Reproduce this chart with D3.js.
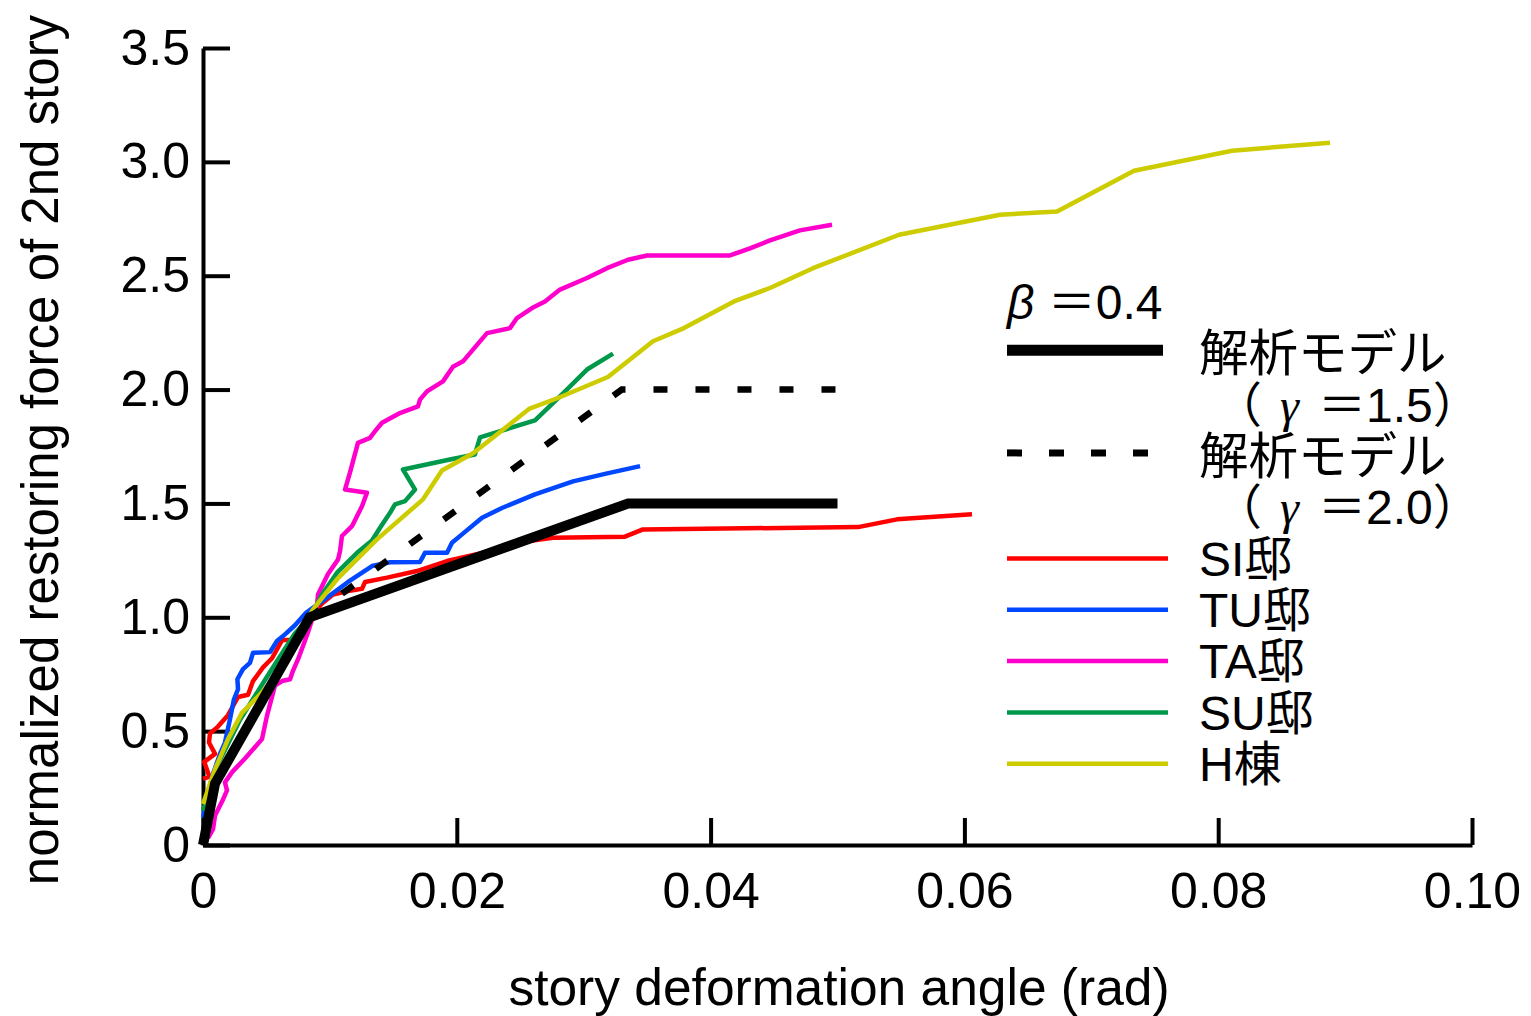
<!DOCTYPE html>
<html>
<head>
<meta charset="utf-8">
<script src="https://cdn.jsdelivr.net/npm/d3@7/dist/d3.min.js"></script>
<style>
  html, body { margin: 0; padding: 0; background: #fff; }
  svg { display: block; }
  text { font-family: "Liberation Sans", Arial, "Noto Sans CJK JP", sans-serif; fill: #000; }
</style>
</head>
<body>
<svg id="chart" width="1531" height="1016"></svg>
<script>
// Story deformation angle (rad) vs. normalized restoring force, [angle, force]
const siData = [[0,0.29],[0.0005,0.30],[0.0001,0.365],[0.00095,0.40],[0.00047,0.45],[0.00055,0.49],
  [0.00118,0.52],[0.00197,0.57],[0.00276,0.65],[0.00355,0.66],[0.00394,0.72],[0.00473,0.78],
  [0.00544,0.82],[0.00623,0.90],[0.00701,0.90],[0.00749,0.94],[0.00843,1.0],[0.00938,1.06],
  [0.01024,1.10],[0.01143,1.115],[0.01253,1.125],[0.01277,1.155],[0.0145,1.174],[0.01686,1.203],
  [0.01923,1.247],[0.02262,1.29],[0.02553,1.334],[0.02758,1.349],[0.03325,1.354],[0.03467,1.386],
  [0.05162,1.396],[0.05469,1.43],[0.0606,1.452]];

const tuData = [[0,0.12],[0.00071,0.30],[0.00134,0.40],[0.00173,0.45],[0.00213,0.553],[0.00244,0.64],
  [0.00276,0.684],[0.00271,0.728],[0.00315,0.772],[0.0037,0.80],[0.00394,0.844],[0.00528,0.847],
  [0.00583,0.896],[0.00646,0.925],[0.00725,0.965],[0.00812,1.02],[0.00977,1.086],[0.01143,1.155],
  [0.01332,1.225],[0.01474,1.242],[0.0171,1.243],[0.01749,1.283],[0.01923,1.283],[0.01962,1.327],
  [0.02041,1.364],[0.02199,1.437],[0.02356,1.48],[0.02616,1.54],[0.02916,1.597],[0.03168,1.63],
  [0.03444,1.664]];

const taData = [[0.00039,0.03],[0.00079,0.07],[0.00095,0.13],[0.00158,0.20],[0.00189,0.24],[0.00173,0.275],
  [0.00229,0.32],[0.00331,0.38],[0.00465,0.465],[0.00504,0.567],[0.00567,0.70],[0.00623,0.72],
  [0.00686,0.728],[0.00709,0.765],[0.00749,0.816],[0.00788,0.874],[0.00827,0.933],[0.00859,0.99],
  [0.00898,1.05],[0.00906,1.10],[0.00985,1.19],[0.01064,1.254],[0.0108,1.291],[0.01095,1.357],
  [0.01174,1.40],[0.01253,1.488],[0.01292,1.547],[0.01119,1.561],[0.01158,1.635],[0.01221,1.766],
  [0.01316,1.788],[0.01355,1.817],[0.01411,1.854],[0.01552,1.897],[0.01694,1.926],[0.0171,1.956],
  [0.01765,1.992],[0.01891,2.036],[0.0197,2.10],[0.02049,2.124],[0.02238,2.248],[0.02419,2.27],
  [0.02474,2.314],[0.02593,2.358],[0.02695,2.387],[0.02813,2.439],[0.03026,2.49],[0.03184,2.533],
  [0.03349,2.57],[0.03499,2.589],[0.04153,2.589],[0.0431,2.62],[0.04468,2.655],[0.04704,2.699],
  [0.04957,2.724]];

const suData = [[0,0.15],[0.00095,0.33],[0.00292,0.55],[0.00528,0.76],[0.00725,0.93],[0.00843,1.0],
  [0.00938,1.1],[0.01056,1.196],[0.01214,1.283],[0.01332,1.337],[0.01395,1.393],[0.01474,1.459],
  [0.01513,1.496],[0.01592,1.51],[0.01671,1.561],[0.01576,1.649],[0.01946,1.693],[0.02143,1.715],
  [0.02183,1.79],[0.02616,1.865],[0.02813,1.97],[0.03026,2.088],[0.03231,2.158]];

const hData = [[0,0.18],[0.00095,0.333],[0.00197,0.465],[0.00307,0.58],[0.00465,0.67],[0.00567,0.74],
  [0.00725,0.89],[0.00867,1.035],[0.01056,1.167],[0.01371,1.342],[0.01734,1.518],[0.01883,1.645],
  [0.02128,1.72],[0.02569,1.915],[0.02797,1.963],[0.03191,2.055],[0.03546,2.212],[0.0379,2.27],
  [0.04184,2.387],[0.04468,2.446],[0.04807,2.533],[0.05485,2.68],[0.06281,2.768],[0.0673,2.782],
  [0.07337,2.961],[0.08109,3.049],[0.08881,3.084]];

// Analytical tri-linear models (beta = 0.4)
const modelG15 = [[0,0],[0.00095,0.27],[0.0084,1.0],[0.0335,1.5],[0.05,1.5]];
const modelG20 = [[0,0],[0.00095,0.27],[0.0084,1.0],[0.033,2.0],[0.05,2.0]];

const xTicks = [0, 0.02, 0.04, 0.06, 0.08, 0.10];
const xTickLabels = ["0", "0.02", "0.04", "0.06", "0.08", "0.10"];
const yTicks = [0, 0.5, 1.0, 1.5, 2.0, 2.5, 3.0, 3.5];
const yTickLabels = ["0", "0.5", "1.0", "1.5", "2.0", "2.5", "3.0", "3.5"];

const houseNames = ["SI邸", "TU邸", "TA邸", "SU邸", "H棟"];
const houseColors = ["#ff0000", "#0047ff", "#ff00cc", "#00994c", "#cccc00"];
const houseSeries = [siData, tuData, taData, suData, hData];

const svg = d3.select("#chart");
const x = d3.scaleLinear().domain([0, 0.10]).range([203, 1472]);
const y = d3.scaleLinear().domain([0, 3.5]).range([845, 48]);

// axes with inward ticks
const xAxis = d3.axisBottom(x).tickValues(xTicks)
  .tickFormat((d, i) => xTickLabels[i]).tickSizeInner(-27).tickSizeOuter(0).tickPadding(27);
const yAxis = d3.axisLeft(y).tickValues(yTicks)
  .tickFormat((d, i) => yTickLabels[i]).tickSizeInner(-27).tickSizeOuter(0).tickPadding(13);

const gx = svg.append("g").attr("transform", `translate(0,${y(0)})`).call(xAxis);
const gy = svg.append("g").attr("transform", `translate(${x(0)},0)`).call(yAxis);
[gx, gy].forEach(g => {
  g.selectAll("path.domain").attr("stroke", "#000").attr("stroke-width", 4);
  g.selectAll(".tick line").attr("stroke", "#000").attr("stroke-width", 4);
  g.selectAll(".tick text").attr("font-size", 50).attr("fill", "#000")
    .style("font-family", "'Liberation Sans', Arial, sans-serif");
});

const line = d3.line().x(d => x(d[0])).y(d => y(d[1]));

// measured curves
houseSeries.forEach((s, i) => {
  svg.append("path").datum(s).attr("d", line)
    .attr("fill", "none").attr("stroke", houseColors[i]).attr("stroke-width", 4.5)
    .attr("stroke-linejoin", "round");
});

// model curves
svg.append("path").datum(modelG20).attr("d", line)
  .attr("fill", "none").attr("stroke", "#000").attr("stroke-width", 6.5)
  .attr("stroke-dasharray", "14,28");
svg.append("path").datum(modelG15).attr("d", line)
  .attr("fill", "none").attr("stroke", "#000").attr("stroke-width", 10);

// axis titles
svg.append("text").attr("x", 839).attr("y", 1005).attr("text-anchor", "middle")
  .attr("font-size", 51.5).text("story deformation angle (rad)");
svg.append("text").attr("transform", "translate(58,450) rotate(-90)").attr("text-anchor", "middle")
  .attr("font-size", 51).text("normalized restoring force of 2nd story");

// legend
const rowY = i => 302 + i * 51.3;
const lg = svg.append("g").attr("font-size", 48);

const beta = lg.append("text").attr("x", 1007).attr("y", rowY(0)).attr("dy", "0.36em");
beta.append("tspan").attr("font-style", "italic").text("β");
beta.append("tspan").text(" ＝0.4");

const modelRows = [
  { row: 1, dash: null, width: 11, gamma: "1.5" },
  { row: 3, dash: "15,27", width: 7, gamma: "2.0" }
];
modelRows.forEach(m => {
  lg.append("line").attr("x1", 1007).attr("x2", 1163)
    .attr("y1", rowY(m.row) - 3).attr("y2", rowY(m.row) - 3)
    .attr("stroke", "#000").attr("stroke-width", m.width)
    .attr("stroke-dasharray", m.dash);
  lg.append("text").attr("x", 1199).attr("y", rowY(m.row)).attr("dy", "0.36em")
    .attr("font-size", 49.5).text("解析モデル");
  const t = lg.append("text").attr("y", rowY(m.row + 1)).attr("dy", "0.36em");
  t.append("tspan").attr("x", 1214).text("（");
  t.append("tspan").attr("x", 1280).attr("font-style", "italic")
    .style("font-family", "'Liberation Serif', serif").text("γ");
  t.append("tspan").attr("x", 1318).text("＝" + m.gamma + "）");
});

houseNames.forEach((name, i) => {
  const yy = rowY(5 + i);
  lg.append("line").attr("x1", 1007).attr("x2", 1168).attr("y1", yy).attr("y2", yy)
    .attr("stroke", houseColors[i]).attr("stroke-width", 4.5);
  lg.append("text").attr("x", 1199).attr("y", yy).attr("dy", "0.36em").text(name);
});
</script>
</body>
</html>
